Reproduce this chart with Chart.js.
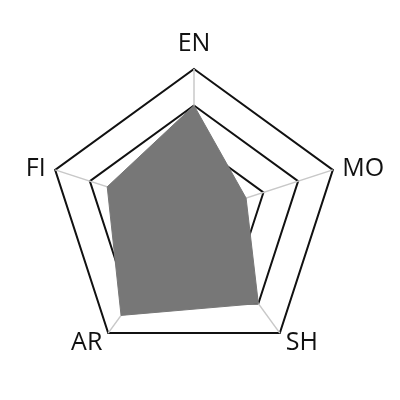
<!DOCTYPE html>
<html>
<head>
<meta charset="utf-8">
<script src="https://cdn.jsdelivr.net/npm/chart.js@4"></script>
<style>
html,body{margin:0;padding:0;background:#fff;}
#wrap{width:400px;height:400px;}
</style>
</head>
<body>
<div id="wrap"><canvas id="c" width="400" height="400"></canvas></div>
<script>
const categories = ["EN", "MO", "SH", "AR", "FI"];
const scores = [3, 1.5, 3, 3.4, 2.5];
const scaleMin = 0;
const scaleMax = 4;
const scaleStep = 1;

const labelPlugin = {
  id: 'outerLabels',
  afterDraw(chart) {
    const scale = chart.scales.r;
    const ctx = chart.ctx;
    ctx.save();
    ctx.font = '25px "Open Sans", sans-serif';
    ctx.fillStyle = '#111';
    ctx.textBaseline = 'alphabetic';
    chart.data.labels.forEach((lab, i) => {
      const p = scale.getPointPosition(i, scale.drawingArea + 10);
      const deg = ((p.angle * 180 / Math.PI) + 90 + 360) % 360;
      let align = 'center';
      if (deg > 1 && deg < 179) align = 'left';
      else if (deg > 181 && deg < 359) align = 'right';
      ctx.textAlign = align;
      let y = p.y + 9;
      if (deg < 1 || deg > 359) y = p.y - 8;
      ctx.fillText(lab, p.x, y);
    });
    ctx.restore();
  }
};

new Chart(document.getElementById('c'), {
  type: 'radar',
  data: {
    labels: categories,
    datasets: [{
      data: scores,
      backgroundColor: 'rgb(119,119,119)',
      borderColor: 'rgb(119,119,119)',
      borderWidth: 1,
      pointRadius: 0,
      fill: true
    }]
  },
  options: {
    responsive: false,
    animation: false,
    devicePixelRatio: 1,
    layout: { padding: { left: 48, top: 69, right: 60, bottom: 39 } },
    plugins: { legend: { display: false }, tooltip: { enabled: false } },
    scales: {
      r: {
        min: scaleMin,
        max: scaleMax,
        ticks: { display: false, stepSize: scaleStep },
        grid: { color: '#111', lineWidth: 2 },
        angleLines: { color: '#c8c8c8', lineWidth: 1.5 },
        pointLabels: { display: false }
      }
    }
  },
  plugins: [labelPlugin]
});
</script>
</body>
</html>
